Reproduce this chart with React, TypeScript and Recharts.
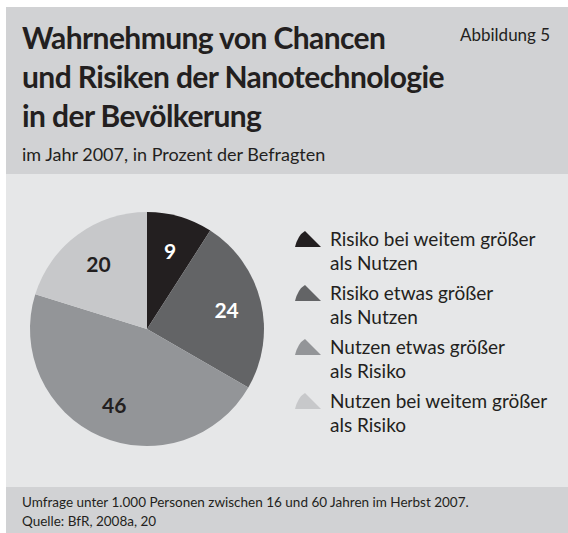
import React from 'react';
import { Pie, PieChart, Cell } from 'recharts';

const categories = [
  'Risiko bei weitem größer als Nutzen',
  'Risiko etwas größer als Nutzen',
  'Nutzen etwas größer als Risiko',
  'Nutzen bei weitem größer als Risiko',
];
const legendLines = [
  ['Risiko bei weitem größer', 'als Nutzen'],
  ['Risiko etwas größer', 'als Nutzen'],
  ['Nutzen etwas größer', 'als Risiko'],
  ['Nutzen bei weitem größer', 'als Risiko'],
];
const shares = [9, 24, 46, 20];
const sliceColors = ['#231f20', '#636466', '#939598', '#c7c8ca'];
const labelColors = ['#ffffff', '#ffffff', '#231f20', '#231f20'];

const FONT = 'Lato, "Open Sans", sans-serif';
const TEXT = '#231f20';

const chartData = categories.map((name, i) => ({ name, value: shares[i] }));

const RADIAN = Math.PI / 180;

function SliceLabel(props: any) {
  const { cx, cy, midAngle, outerRadius, index, value } = props;
  const r = outerRadius * 0.7;
  const x = cx + r * Math.cos(-midAngle * RADIAN);
  const y = cy + r * Math.sin(-midAngle * RADIAN);
  return (
    <text
      x={x}
      y={y}
      fill={labelColors[index]}
      textAnchor="middle"
      dominantBaseline="central"
      fontFamily={FONT}
      fontWeight={700}
      fontSize={21}
    >
      {value}
    </text>
  );
}

function ChartLegend() {
  return (
    <div style={{ fontFamily: FONT, color: TEXT, fontSize: 19, lineHeight: '24px' }}>
      {legendLines.map((lines, i) => (
        <div key={i} style={{ display: 'flex', alignItems: 'flex-start', marginBottom: 6 }}>
          <svg width={28} height={18} style={{ marginTop: 3, marginRight: 8, flexShrink: 0 }}>
            <path d="M1,17 Q4,5 11,1 L27,17 Z" fill={sliceColors[i]} />
          </svg>
          <div>
            {lines.map((l) => (
              <div key={l}>{l}</div>
            ))}
          </div>
        </div>
      ))}
    </div>
  );
}

export default function App() {
  return (
    <div
      style={{
        position: 'absolute',
        left: 0,
        top: 0,
        width: 568,
        height: 533,
        background: '#ffffff',
        fontFamily: FONT,
        color: TEXT,
      }}
    >
      <div style={{ position: 'absolute', left: 6, top: 7, width: 562, height: 167, background: '#d1d2d4' }} />
      <div style={{ position: 'absolute', left: 6, top: 174, width: 562, height: 313, background: '#e6e7e8' }} />
      <div style={{ position: 'absolute', left: 6, top: 487, width: 562, height: 46, background: '#d1d2d4' }} />

      <div
        style={{
          position: 'absolute',
          left: 22,
          top: 18,
          fontSize: 30,
          fontWeight: 700,
          lineHeight: '39px',
          letterSpacing: -0.6,
        }}
      >
        <div>Wahrnehmung von Chancen</div>
        <div>und Risiken der Nanotechnologie</div>
        <div>in der Bevölkerung</div>
      </div>
      <div style={{ position: 'absolute', left: 460, top: 24, fontSize: 17 }}>Abbildung 5</div>
      <div style={{ position: 'absolute', left: 22, top: 143, fontSize: 18 }}>
        im Jahr 2007, in Prozent der Befragten
      </div>

      <div style={{ position: 'absolute', left: 0, top: 0 }}>
        <PieChart width={568} height={533} margin={{ top: 0, right: 0, bottom: 0, left: 0 }}>
          <Pie
            data={chartData}
            dataKey="value"
            nameKey="name"
            cx={147}
            cy={329}
            outerRadius={117}
            startAngle={90}
            endAngle={-270}
            stroke="none"
            label={SliceLabel}
            labelLine={false}
            isAnimationActive={false}
          >
            {chartData.map((d, i) => (
              <Cell key={d.name} fill={sliceColors[i]} />
            ))}
          </Pie>
        </PieChart>
      </div>

      <div style={{ position: 'absolute', left: 294, top: 227 }}>
        <ChartLegend />
      </div>

      <div style={{ position: 'absolute', left: 22, top: 493, fontSize: 13.5, lineHeight: '19px' }}>
        <div>Umfrage unter 1.000 Personen zwischen 16 und 60 Jahren im Herbst 2007.</div>
        <div>Quelle: BfR, 2008a, 20</div>
      </div>
    </div>
  );
}
